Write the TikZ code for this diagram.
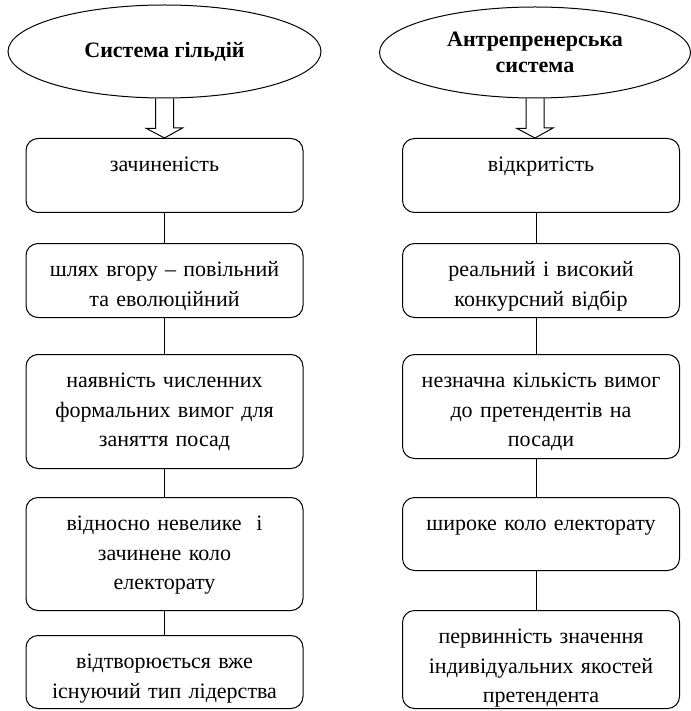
\documentclass[tikz,border=0pt]{standalone}
\usepackage{fontspec}
\setmainfont{Liberation Serif}
\usetikzlibrary{shapes.geometric}

\tikzset{
  blok/.style={draw, rounded corners=12pt, anchor=north, text width=269pt,
    inner xsep=4pt, inner ysep=0pt, align=center, text height=33pt,
    font=\fontsize{22}{29.5}\selectfont},
  tytul/.style={draw, ellipse, inner sep=0pt, align=center,
    font=\fontsize{22}{25.5}\selectfont\bfseries}
}

\begin{document}
\begin{tikzpicture}[x=1pt,y=1pt,line width=1pt]
  \useasboundingbox (0,0) rectangle (690,-711);

  % ліва колонка
  \draw (164.5,-51.5) node[tytul,minimum width=313pt,minimum height=93pt] (gildii) {Система гільдій};
  \draw (164.5,-138) node[blok,text depth=41pt] (zachynenist) {зачиненість};
  \draw (164.5,-243) node[blok,text depth=41pt] (shliakh) {шлях вгору – повільний\\та еволюційний};
  \draw (164.5,-354) node[blok,text depth=81pt] (vymohy) {наявність численних\\формальних вимог для\\заняття посад};
  \draw (164.5,-497) node[blok,text depth=80pt] (elektorat) {відносно невелике\ \ і\\зачинене коло\\електорату};
  \draw (164.5,-635) node[blok,text depth=40pt] (liderstvo) {відтворюється вже\\існуючий тип лідерства};

  \draw ([xshift=-9pt]gildii.south) -- ++(0,-30) -- ++(-9,0) -- (zachynenist.north -| gildii.south)
    -- ++(18,10) -- ++(-9,0) -- ([xshift=9pt]gildii.south);
  \path[-] (zachynenist) edge (shliakh);
  \path[-] (shliakh) edge (vymohy);
  \path[-] (vymohy) edge (elektorat);
  \path[-] (elektorat) edge (liderstvo);

  % права колонка
  \draw (535,-52.5) node[tytul,minimum width=311pt,minimum height=91pt] (antrepr) {Антрепренерська\\система};
  \draw (541,-138) node[blok,text depth=41pt] (vidkrytist) {відкритість};
  \draw (541,-243) node[blok,text depth=41pt] (vidbir) {реальний і високий\\конкурсний відбір};
  \draw (541,-354) node[blok,text depth=71pt] (vymohy2) {незначна кількість вимог\\до претендентів на\\посади};
  \draw (541,-497) node[blok,text depth=40pt] (elektorat2) {широке коло електорату};
  \draw (541,-610) node[blok,text depth=65pt] (yakosti) {первинність значення\\індивідуальних якостей\\претендента};

  \draw ([xshift=-9pt]antrepr.south) -- ++(0,-30) -- ++(-9,0) -- (vidkrytist.north -| antrepr.south)
    -- ++(18,10) -- ++(-9,0) -- ([xshift=9pt]antrepr.south);
  \draw ([xshift=-5pt]vidkrytist.south) -- ([xshift=-5pt]vidbir.north);
  \draw ([xshift=-5pt]vidbir.south) -- ([xshift=-5pt]vymohy2.north);
  \draw ([xshift=-5pt]vymohy2.south) -- ([xshift=-5pt]elektorat2.north);
  \draw ([xshift=-5pt]elektorat2.south) -- ([xshift=-5pt]yakosti.north);
\end{tikzpicture}
\end{document}
